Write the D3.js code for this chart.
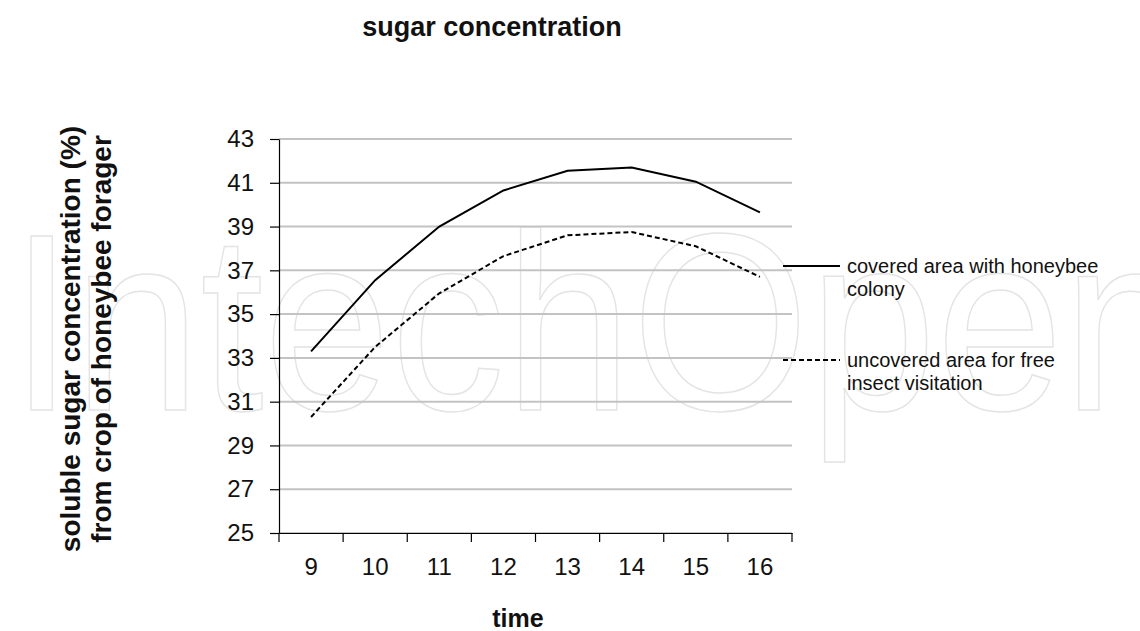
<!DOCTYPE html>
<html>
<head>
<meta charset="utf-8">
<script src="https://cdn.jsdelivr.net/npm/d3@7"></script>
<style>
  html, body { margin: 0; padding: 0; background: #fff; }
  svg { display: block; font-family: "Liberation Sans", Arial, sans-serif; }
</style>
</head>
<body>
<svg id="chart" width="1140" height="631"></svg>
<script>
// ---- data ----
const categories = ["9", "10", "11", "12", "13", "14", "15", "16"];
const coveredValues   = [33.3, 36.55, 39.0, 40.65, 41.55, 41.7, 41.05, 39.65];
const uncoveredValues = [30.3, 33.5, 35.95, 37.65, 38.6, 38.75, 38.1, 36.7];
const yTicks = [25, 27, 29, 31, 33, 35, 37, 39, 41, 43];
const seriesNames = ["covered area with honeybee|colony", "uncovered area for free|insect visitation"];
const titleText = "sugar concentration";
const xTitle = "time";
const yTitleLines = ["soluble sugar concentration (%)", "from crop of honeybee forager"];
const watermarkText = "IntechOpen";

// ---- layout ----
const svg = d3.select("#chart");
const plotLeft = 279, plotRight = 792, plotTop = 139, plotBottom = 533;

// watermark (behind everything)
svg.append("text")
  .attr("x", 10).attr("y", 410)
  .attr("font-size", 252)
  .attr("textLength", 1180)
  .attr("lengthAdjust", "spacingAndGlyphs")
  .attr("fill", "none")
  .attr("stroke", "#e4e4e4")
  .attr("stroke-width", 1.5)
  .text(watermarkText);

const x = d3.scaleBand().domain(categories).range([plotLeft, plotRight]).padding(0);
const y = d3.scaleLinear().domain([25, 43]).range([plotBottom, plotTop]);

// gridlines
svg.append("g").selectAll("line").data(yTicks).join("line")
  .attr("x1", plotLeft).attr("x2", plotRight)
  .attr("y1", d => y(d)).attr("y2", d => y(d))
  .attr("stroke", "#c3c3c3").attr("stroke-width", 2);

// y axis
const yAxis = svg.append("g").attr("transform", `translate(${plotLeft},0)`)
  .call(d3.axisLeft(y).tickValues(yTicks).tickSize(9).tickPadding(16).tickSizeOuter(0));
yAxis.select(".domain").attr("stroke", "#000").attr("stroke-width", 1.2);
yAxis.selectAll(".tick line").attr("stroke", "#000").attr("stroke-width", 1.2);
yAxis.selectAll("text").attr("font-size", 24).attr("fill", "#111")
  .attr("font-family", "Liberation Sans, Arial, sans-serif");

// x axis (labels at band centres, ticks at band boundaries)
const xAxis = svg.append("g").attr("transform", `translate(0,${plotBottom})`)
  .call(d3.axisBottom(x).tickSize(0).tickPadding(25).tickSizeOuter(0));
xAxis.select(".domain").attr("stroke", "#000").attr("stroke-width", 1.2);
xAxis.selectAll("text").attr("font-size", 24).attr("fill", "#111")
  .attr("font-family", "Liberation Sans, Arial, sans-serif");
const boundaries = categories.map(c => x(c)).concat([x.range()[1]]);
xAxis.append("g").selectAll("line").data(boundaries).join("line")
  .attr("x1", d => d).attr("x2", d => d)
  .attr("y1", 0).attr("y2", 9)
  .attr("stroke", "#000").attr("stroke-width", 1.2);

// lines
const line = d3.line()
  .x((d, i) => x(categories[i]) + x.bandwidth() / 2)
  .y(d => y(d));

svg.append("path").datum(coveredValues)
  .attr("d", line).attr("fill", "none")
  .attr("stroke", "#000").attr("stroke-width", 2);

svg.append("path").datum(uncoveredValues)
  .attr("d", line).attr("fill", "none")
  .attr("stroke", "#000").attr("stroke-width", 2)
  .attr("stroke-dasharray", "5,3");

// legend
const legendY = [266, 360];
const legend = svg.append("g");
seriesNames.forEach((name, i) => {
  const ly = legendY[i];
  legend.append("line")
    .attr("x1", 783).attr("x2", 840).attr("y1", ly).attr("y2", ly)
    .attr("stroke", "#000").attr("stroke-width", 2)
    .attr("stroke-dasharray", i === 1 ? "5,3" : null);
  const t = legend.append("text").attr("x", 847).attr("y", ly + 7)
    .attr("font-size", 20).attr("fill", "#111");
  name.split("|").forEach((part, j) => {
    t.append("tspan").attr("x", 847).attr("dy", j === 0 ? 0 : 23).text(part);
  });
});

// title
svg.append("text")
  .attr("x", 492).attr("y", 36)
  .attr("text-anchor", "middle")
  .attr("font-size", 27).attr("font-weight", "bold").attr("fill", "#111")
  .text(titleText);

// x title
svg.append("text")
  .attr("x", 518).attr("y", 627)
  .attr("text-anchor", "middle")
  .attr("font-size", 25).attr("font-weight", "bold").attr("fill", "#111")
  .text(xTitle);

// y title
const yt = svg.append("text")
  .attr("transform", "translate(80,339) rotate(-90)")
  .attr("text-anchor", "middle")
  .attr("font-size", 28).attr("font-weight", "bold").attr("fill", "#111");
yTitleLines.forEach((l, j) => {
  yt.append("tspan").attr("x", 0).attr("dy", j === 0 ? 0 : 31).text(l);
});
</script>
</body>
</html>
